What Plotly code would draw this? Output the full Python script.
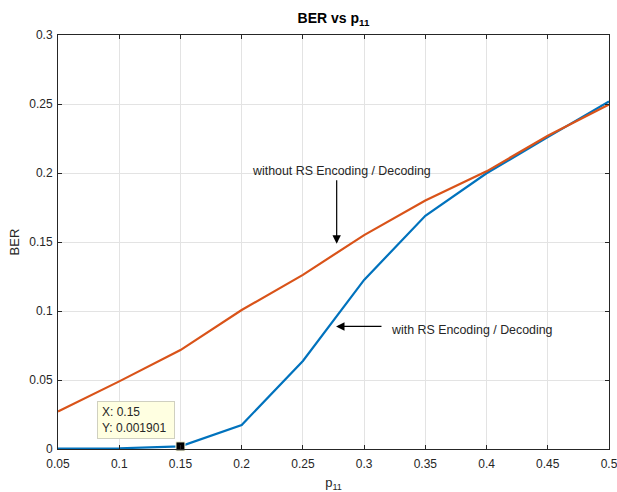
import plotly.graph_objects as go

p11 = [0.05, 0.10, 0.15, 0.20, 0.25, 0.30, 0.35, 0.40, 0.45, 0.50]
ber_with_rs = [0.0003, 0.0005, 0.001901, 0.0174, 0.0638, 0.1225, 0.1690, 0.1998, 0.2260, 0.2519]
ber_without_rs = [0.0272, 0.0490, 0.0717, 0.1007, 0.1262, 0.1550, 0.1800, 0.2012, 0.2270, 0.2497]
x_ticks = [0.05, 0.1, 0.15, 0.2, 0.25, 0.3, 0.35, 0.4, 0.45, 0.5]
y_ticks = [0, 0.05, 0.1, 0.15, 0.2, 0.25, 0.3]
tip_index = 2

FONT = "Liberation Sans, Arial, Helvetica, sans-serif"
AX = "#262626"
GRID = "#e3e3e3"
ANN = 12.4

fig = go.Figure()
fig.add_trace(go.Scatter(x=p11, y=ber_with_rs, mode="lines",
                         line=dict(color="#0072BD", width=2.2), name="with RS"))
fig.add_trace(go.Scatter(x=p11, y=ber_without_rs, mode="lines",
                         line=dict(color="#D95319", width=2.2), name="without RS"))
fig.add_trace(go.Scatter(x=[p11[tip_index]], y=[ber_with_rs[tip_index]], mode="markers",
                         marker=dict(symbol="square", size=9, color="black",
                                     line=dict(color="#ffffe1", width=1)),
                         cliponaxis=False, name="tip"))

annotations = [
    dict(x=0.2776, y=0.1488, ax=0.2776, ay=0.1959, xref="x", yref="y", axref="x", ayref="y",
         text="", showarrow=True, arrowhead=2, arrowsize=1.4, arrowwidth=1.2, arrowcolor="black"),
    dict(x=0.2068, y=0.2012, xref="x", yref="y", text="without RS Encoding / Decoding",
         showarrow=False, xanchor="left", yanchor="middle",
         font=dict(family=FONT, size=ANN, color="#262626")),
    dict(x=0.2771, y=0.0888, ax=0.3154, ay=0.0888, xref="x", yref="y", axref="x", ayref="y",
         text="", showarrow=True, arrowhead=2, arrowsize=1.4, arrowwidth=1.2, arrowcolor="black"),
    dict(x=0.3203, y=0.0864, xref="x", yref="y", text="with RS Encoding / Decoding",
         showarrow=False, xanchor="left", yanchor="middle",
         font=dict(family=FONT, size=ANN, color="#262626")),
    dict(x=0.0819, y=0.0350, xref="x", yref="y",
         text="X: %g<br>Y: %g" % (p11[tip_index], ber_with_rs[tip_index]),
         showarrow=False, xanchor="left", yanchor="top", align="left", valign="middle",
         width=68, height=28,
         bgcolor="#ffffe1", bordercolor="#d0d0c0", borderwidth=1, borderpad=4,
         font=dict(family=FONT, size=12, color="#262626")),
]

fig.update_layout(
    width=617, height=492,
    margin=dict(l=58, r=8, t=35, b=43),
    paper_bgcolor="white", plot_bgcolor="white",
    showlegend=False,
    font=dict(family=FONT, size=12, color=AX),
    title=dict(text="<b>BER vs p<sub>11</sub></b>", xref="paper", x=0.5, xanchor="center",
               yref="container", y=0.963, yanchor="middle", automargin=False,
               font=dict(family=FONT, size=14, color="black")),
    annotations=annotations,
)
fig.update_xaxes(range=[0.05, 0.5], tickvals=x_ticks, ticktext=["%g" % v for v in x_ticks],
                 showgrid=True, gridcolor=GRID, gridwidth=1, automargin=False,
                 showline=True, linecolor=AX, linewidth=1, mirror="allticks",
                 ticks="inside", ticklen=4, tickcolor=AX, zeroline=False,
                 ticklabelstandoff=4, ticklabeloverflow="allow",
                 tickfont=dict(family=FONT, size=12, color=AX),
                 title=dict(text="p<sub>11</sub>", font=dict(family=FONT, size=13, color=AX), standoff=12))
fig.update_yaxes(range=[0, 0.3], tickvals=y_ticks, ticktext=["%g" % v for v in y_ticks],
                 showgrid=True, gridcolor=GRID, gridwidth=1, automargin=False,
                 showline=True, linecolor=AX, linewidth=1, mirror="allticks",
                 ticks="inside", ticklen=4, tickcolor=AX, zeroline=False,
                 ticklabelstandoff=2, ticklabeloverflow="allow",
                 tickfont=dict(family=FONT, size=12, color=AX),
                 title=dict(text="BER", font=dict(family=FONT, size=13, color=AX), standoff=6))

# remove the browser's default 8px page margin so the 617x492 figure fills the window
fig.write_html("out.html", config={"displayModeBar": False},
               post_script="document.body.style.margin='0';document.body.style.overflow='hidden';")
